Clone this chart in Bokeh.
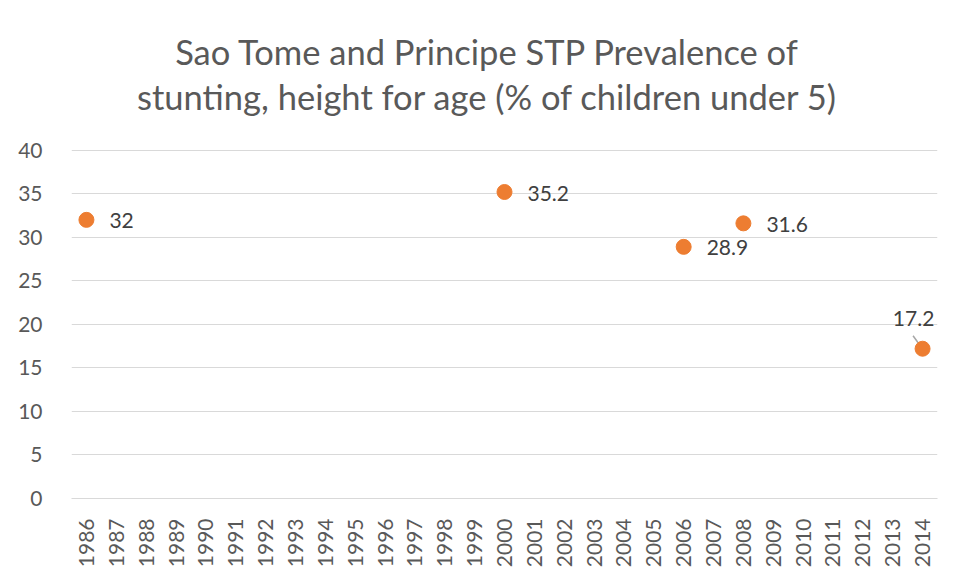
from bokeh.plotting import figure
from bokeh.models import Range1d, FixedTicker, Label, ColumnDataSource
from bokeh.embed import file_html
from bokeh.resources import INLINE
from bokeh.core.properties import value
import math

# ---- data ----
years = list(range(1986, 2015))
point_years = [1986, 2000, 2006, 2008, 2014]
point_values = [32.0, 35.2, 28.9, 31.6, 17.2]
point_labels = ["32", "35.2", "28.9", "31.6", "17.2"]
y_ticks = [0, 5, 10, 15, 20, 25, 30, 35, 40]
title_lines = ["Sao Tome and Principe STP Prevalence of",
               "stunting, height for age (% of children under 5)"]

# ---- layout / styles (screen px) ----
label_dx = [23, 23, 23, 23, -9]
label_dy = [1, 1, 1, 1, -30]
label_align = ["left", "left", "left", "left", "center"]

FONT = "Lato"
ORANGE = "#ED7D31"
GRID = "#D9D9D9"
LBL_SIZE = "21px"

FRAME_TOP = 4        # frame spans from here ...
AXIS_TOP_PX = 150    # ... the 40-gridline sits here
AXIS_BOTTOM_PX = 499 # ... and the 0-line here
px_y = (AXIS_BOTTOM_PX - AXIS_TOP_PX) / (y_ticks[-1] - y_ticks[0])
y_end = y_ticks[-1] + (AXIS_TOP_PX - FRAME_TOP) / px_y

p = figure(width=950, height=570, output_backend="svg", toolbar_location=None,
           x_range=Range1d(years[0] - 0.5, years[-1] + 0.5),
           y_range=Range1d(y_ticks[0], y_end),
           min_border_left=71, min_border_right=13, min_border_top=FRAME_TOP,
           min_border_bottom=570 - AXIS_BOTTOM_PX)
p.outline_line_color = None
p.background_fill_color = "white"
p.border_fill_color = "white"

# axes
p.xaxis.ticker = FixedTicker(ticks=years)
p.xaxis.major_label_overrides = {y: str(y) for y in years}
p.xaxis.major_label_orientation = math.pi / 2
p.xaxis.axis_line_color = GRID
p.xaxis.axis_line_width = 1
p.xaxis.major_tick_line_color = None
p.xaxis.minor_tick_line_color = None
p.xaxis.major_label_standoff = 14
p.xaxis.major_label_text_font = FONT
p.xaxis.major_label_text_font_size = LBL_SIZE
p.xaxis.major_label_text_color = "#595959"

p.yaxis.ticker = FixedTicker(ticks=y_ticks)
p.yaxis.axis_line_color = None
p.yaxis.major_tick_line_color = None
p.yaxis.minor_tick_line_color = None
p.yaxis.major_label_standoff = 23
p.yaxis.major_label_text_font = FONT
p.yaxis.major_label_text_font_size = LBL_SIZE
p.yaxis.major_label_text_color = "#595959"

p.xgrid.grid_line_color = None
p.ygrid.ticker = FixedTicker(ticks=y_ticks)
p.ygrid.grid_line_color = GRID
p.ygrid.grid_line_width = 1

# leader line for the 17.2 label (offsets from the point, in data units)
px_x = 866 / len(years)   # px per year
lx, ly = point_years[-1], point_values[-1]
p.segment(x0=[lx - 9.5 / px_x], y0=[ly + 13 / px_y],
          x1=[lx - 1.8 / px_x], y1=[ly + 2.3 / px_y],
          line_color="#A6A6A6", line_width=1.5)

src = ColumnDataSource(dict(x=point_years, y=point_values, t=point_labels,
                            dx=label_dx, dy=label_dy, al=label_align))
p.scatter("x", "y", source=src, size=15, fill_color=ORANGE, line_color=ORANGE)
p.text("x", "y", text="t", source=src, x_offset="dx", y_offset="dy",
       text_align="al", text_baseline="middle",
       text_font=value(FONT), text_font_size=LBL_SIZE, text_color="#404040")

# title: two centred lines (screen units from the frame's bottom-left)
for line, base_px in ((title_lines[0], 52), (title_lines[1], 97)):
    p.add_layout(Label(x=487 - 71, y=AXIS_BOTTOM_PX - base_px,
                       x_units="screen", y_units="screen", text=line,
                       text_align="center", text_baseline="alphabetic",
                       text_font=FONT, text_font_size="34.5px",
                       text_color="#595959"))

open("out.html", "w").write(file_html(p, INLINE))
